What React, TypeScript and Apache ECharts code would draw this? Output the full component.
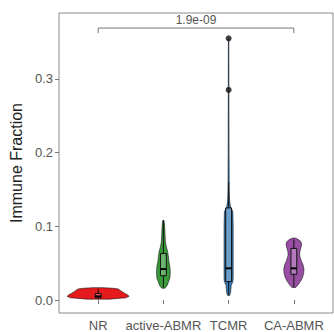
import React, { useEffect, useRef } from "react";
import * as echarts from "echarts";

const groups = ["NR", "active-ABMR", "TCMR", "CA-ABMR"];
const colors = ["#E41A1C", "#3A9A3A", "#377EB8", "#984EA3"];
const yTicks = [0, 0.1, 0.2, 0.3];

// violin density profiles: [value, relative width (category units)]
const nrProfile = [
  [0.0012, 0.35], [0.003, 0.85], [0.005, 0.95], [0.007, 0.9], [0.009, 0.82],
  [0.011, 0.75], [0.013, 0.68], [0.015, 0.62], [0.016, 0.45], [0.0168, 0.15],
];
const activeProfile = [
  [0.016, 0.05], [0.02, 0.12], [0.025, 0.16], [0.03, 0.2], [0.038, 0.21],
  [0.045, 0.2], [0.052, 0.17], [0.06, 0.15], [0.066, 0.13], [0.072, 0.09],
  [0.08, 0.06], [0.09, 0.05], [0.1, 0.04], [0.108, 0.02],
];
const tcmrProfile = [
  [0.006, 0.03], [0.01, 0.06], [0.02, 0.08], [0.025, 0.13], [0.03, 0.14],
  [0.05, 0.14], [0.08, 0.14], [0.1, 0.14], [0.12, 0.13], [0.126, 0.06],
  [0.135, 0.03], [0.15, 0.02], [0.2, 0.014], [0.25, 0.012], [0.3, 0.01],
  [0.355, 0.008],
];
const caProfile = [
  [0.017, 0.06], [0.02, 0.12], [0.025, 0.2], [0.03, 0.26], [0.036, 0.3],
  [0.042, 0.31], [0.048, 0.28], [0.054, 0.22], [0.06, 0.18], [0.065, 0.18],
  [0.07, 0.21], [0.075, 0.24], [0.079, 0.22], [0.082, 0.14], [0.084, 0.04],
];
const profiles = [nrProfile, activeProfile, tcmrProfile, caProfile];

// box stats: [whiskerLow, q1, median, q3, whiskerHigh]
const boxStats = [
  [0.002, 0.003, 0.005, 0.009, 0.015],
  [0.017, 0.033, 0.042, 0.063, 0.108],
  [0.007, 0.025, 0.043, 0.125, 0.16],
  [0.018, 0.035, 0.043, 0.07, 0.082],
];
const outliers = [
  [3, 0.285],
  [3, 0.355],
];
const pLabel = "1.9e-09";
const bracket = [1, 4, 0.369, 0.362];

const FONT = "'Liberation Sans', Arial, sans-serif";

export default function App() {
  const ref = useRef<HTMLDivElement>(null);
  useEffect(() => {
    if (!ref.current) return;
    const chart = echarts.init(ref.current, undefined, { renderer: "svg" });
    const boxW = 0.09;
    chart.setOption({
      animation: false,
      grid: {
        left: 59, right: 1, top: 13, bottom: 19,
        show: true, borderColor: "#8a8a8a", borderWidth: 1,
        backgroundColor: "transparent",
      },
      xAxis: {
        type: "value", min: 0.4, max: 4.6,
        splitLine: { show: false },
        axisLine: { show: false },
        axisTick: { show: true, customValues: [1, 2, 3, 4], length: 4, lineStyle: { color: "#777" } },
        axisLabel: {
          customValues: [1, 2, 3, 4],
          formatter: (v: number) => groups[Math.round(v) - 1] || "",
          fontSize: 13, color: "#555", margin: 6, fontFamily: FONT,
        },
      },
      yAxis: {
        type: "value", min: -0.0176, max: 0.3894,
        splitLine: { show: false },
        axisLine: { show: false },
        axisTick: { show: true, customValues: yTicks, length: 4, lineStyle: { color: "#777" } },
        axisLabel: {
          customValues: yTicks,
          formatter: (v: number) => v.toFixed(1),
          fontSize: 13, color: "#555", margin: 6, fontFamily: FONT,
        },
        name: "Immune Fraction",
        nameLocation: "middle",
        nameGap: 28,
        nameTextStyle: { fontSize: 16, color: "#222", fontFamily: FONT },
      },
      series: [
        {
          type: "custom",
          data: groups.map((g, i) => [i + 1]),
          renderItem: (params: any, api: any) => {
            const i = params.dataIndex;
            const x = i + 1;
            const prof = profiles[i];
            const right: number[][] = [];
            const left: number[][] = [];
            prof.forEach(([v, w]) => {
              const c = api.coord([x, v]);
              const hw = api.size([w, 0])[0] / 2;
              right.push([c[0] + hw, c[1]]);
              left.push([c[0] - hw, c[1]]);
            });
            const pts = right.concat(left.reverse());
            const s = boxStats[i];
            const bw = api.size([boxW, 0])[0];
            const cLow = api.coord([x, s[0]]);
            const cQ1 = api.coord([x, s[1]]);
            const cMed = api.coord([x, s[2]]);
            const cQ3 = api.coord([x, s[3]]);
            const cHigh = api.coord([x, s[4]]);
            return {
              type: "group",
              children: [
                {
                  type: "polygon",
                  shape: { points: pts },
                  style: { fill: colors[i], stroke: "rgba(0,0,0,0.65)", lineWidth: 0.8 },
                },
                {
                  type: "line",
                  shape: { x1: cLow[0], y1: cLow[1], x2: cQ1[0], y2: cQ1[1] },
                  style: { stroke: "#111", lineWidth: 1 },
                },
                {
                  type: "line",
                  shape: { x1: cQ3[0], y1: cQ3[1], x2: cHigh[0], y2: cHigh[1] },
                  style: { stroke: "#111", lineWidth: 1 },
                },
                {
                  type: "rect",
                  shape: { x: cQ1[0] - bw / 2, y: cQ3[1], width: bw, height: cQ1[1] - cQ3[1] },
                  style: { fill: "rgba(255,255,255,0.25)", stroke: "#111", lineWidth: 1 },
                },
                {
                  type: "line",
                  shape: { x1: cMed[0] - bw / 2, y1: cMed[1], x2: cMed[0] + bw / 2, y2: cMed[1] },
                  style: { stroke: "#000", lineWidth: 2 },
                },
              ],
            };
          },
          z: 2,
        },
        {
          type: "scatter",
          data: outliers,
          symbol: "circle",
          symbolSize: 6,
          itemStyle: { color: "#111" },
          z: 3,
        },
        {
          type: "custom",
          data: [bracket],
          renderItem: (params: any, api: any) => {
            const a = api.coord([bracket[0], bracket[2]]);
            const b = api.coord([bracket[1], bracket[2]]);
            const a2 = api.coord([bracket[0], bracket[3]]);
            const b2 = api.coord([bracket[1], bracket[3]]);
            return {
              type: "group",
              children: [
                {
                  type: "polyline",
                  shape: { points: [[a2[0], a2[1]], [a[0], a[1]], [b[0], b[1]], [b2[0], b2[1]]] },
                  style: { stroke: "#777", lineWidth: 1, fill: null },
                },
                {
                  type: "text",
                  x: (a[0] + b[0]) / 2,
                  y: a[1] - 2,
                  style: {
                    text: pLabel, fontSize: 12, fill: "#555", fontFamily: FONT,
                    align: "center", verticalAlign: "bottom",
                  },
                },
              ],
            };
          },
          z: 4,
        },
      ],
    });
    return () => chart.dispose();
  }, []);
  return (
    <div
      ref={ref}
      style={{ position: "fixed", left: 0, top: 0, width: 334, height: 332, background: "#fff" }}
    />
  );
}
